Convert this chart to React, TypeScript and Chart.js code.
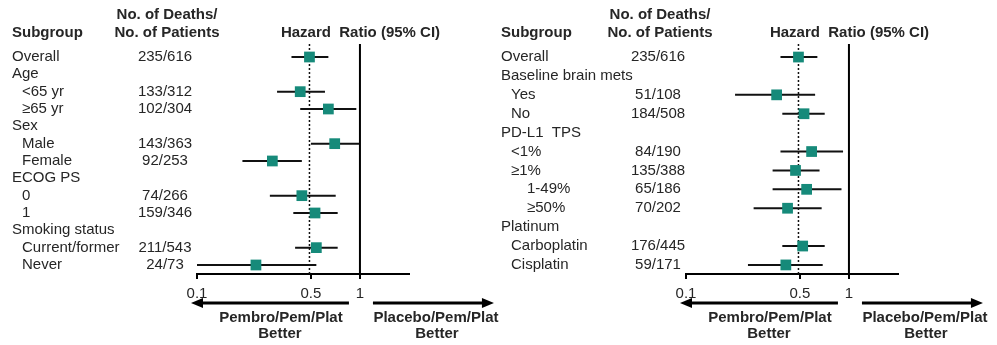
import React, { useEffect, useRef } from 'react';
import { Chart, registerables } from 'chart.js';
Chart.register(...registerables);

// ---------- Left panel data ----------
const leftLabels = ['Overall', 'Age', '<65 yr', '≥65 yr', 'Sex', 'Male', 'Female', 'ECOG PS', '0', '1', 'Smoking status', 'Current/former', 'Never'];
const leftLevels = [0, 0, 1, 1, 0, 1, 1, 0, 1, 1, 0, 1, 1];
const leftCounts = ['235/616', '', '133/312', '102/304', '', '143/363', '92/253', '', '74/266', '159/346', '', '211/543', '24/73'];
const leftHR = [0.49, null, 0.43, 0.64, null, 0.70, 0.29, null, 0.44, 0.53, null, 0.54, 0.23];
const leftLo = [0.38, null, 0.31, 0.43, null, 0.50, 0.19, null, 0.28, 0.39, null, 0.40, 0.10];
const leftHi = [0.64, null, 0.61, 0.95, null, 0.99, 0.44, null, 0.71, 0.73, null, 0.73, 0.54];

// ---------- Right panel data ----------
const rightLabels = ['Overall', 'Baseline brain mets', 'Yes', 'No', 'PD-L1  TPS', '<1%', '≥1%', '1-49%', '≥50%', 'Platinum', 'Carboplatin', 'Cisplatin'];
const rightLevels = [0, 0, 1, 1, 0, 1, 1, 2, 2, 0, 1, 1];
const rightCounts = ['235/616', '', '51/108', '184/508', '', '84/190', '135/388', '65/186', '70/202', '', '176/445', '59/171'];
const rightHR = [0.49, null, 0.36, 0.53, null, 0.59, 0.47, 0.55, 0.42, null, 0.52, 0.41];
const rightLo = [0.38, null, 0.20, 0.39, null, 0.38, 0.34, 0.34, 0.26, null, 0.39, 0.24];
const rightHi = [0.64, null, 0.62, 0.71, null, 0.92, 0.66, 0.90, 0.68, null, 0.71, 0.69];

// ---------- Axis ----------
const xTicks = [0.1, 0.5, 1];
const xMin = 0.1;
const xMax = 2;
const nullLine = 1;

const FONT = '"Liberation Sans", Arial, Helvetica, sans-serif';
const TEXT = '#262626';
const TEAL = '#168a7a';

type PanelProps = {
  labels: string[];
  levels: number[];
  counts: string[];
  hr: (number | null)[];
  lo: (number | null)[];
  hi: (number | null)[];
  yMin: number;
  yMax: number;
  width: number;
  left: number;
  padLeft: number;
  padRight: number;
  labelX: number;
  countX: number;
  indents: number[];
};

function Panel(props: PanelProps) {
  const ref = useRef<HTMLCanvasElement | null>(null);
  useEffect(() => {
    const canvas = ref.current;
    if (!canvas) return;
    const { labels, levels, counts, hr, lo, hi, yMin, yMax } = props;

    const barSets = hr
      .map((v, i) => ({ v, i }))
      .filter((d) => d.v !== null)
      .map((d) => ({
        type: 'line' as const,
        data: [
          { x: lo[d.i] as number, y: d.i },
          { x: hi[d.i] as number, y: d.i },
        ],
        borderColor: '#111',
        borderWidth: 2,
        pointRadius: 0,
        order: 2,
      }));

    const points = hr
      .map((v, i) => ({ x: v, y: i }))
      .filter((d) => d.x !== null) as { x: number; y: number }[];

    const textPlugin = {
      id: 'forestText',
      afterDraw(chart: any) {
        const ctx = chart.ctx as CanvasRenderingContext2D;
        const xs = chart.scales.x;
        const ys = chart.scales.y;
        ctx.save();
        ctx.fillStyle = TEXT;
        ctx.textBaseline = 'middle';
        // headers
        ctx.font = `bold 15px ${FONT}`;
        ctx.textAlign = 'left';
        ctx.fillText('Subgroup', props.labelX, 33);
        ctx.textAlign = 'center';
        ctx.fillText('No. of Deaths/', props.countX + 2, 15);
        ctx.fillText('No. of Patients', props.countX + 2, 33);
        ctx.textAlign = 'left';
        ctx.fillText('Hazard  Ratio (95% CI)', xs.getPixelForValue(0.5) - 30, 33);
        // rows
        ctx.font = `15px ${FONT}`;
        labels.forEach((lab, i) => {
          const py = ys.getPixelForValue(i);
          ctx.textAlign = 'left';
          ctx.fillText(lab, props.labelX + props.indents[levels[i]], py);
          if (counts[i]) {
            ctx.textAlign = 'center';
            ctx.fillText(counts[i], props.countX, py);
          }
        });
        // arrows
        const x0 = xs.getPixelForValue(xMin);
        const x1 = xs.getPixelForValue(nullLine);
        const ay = 303;
        ctx.strokeStyle = '#000';
        ctx.fillStyle = '#000';
        ctx.lineWidth = 3;
        // left arrow
        ctx.beginPath();
        ctx.moveTo(x1 - 11, ay);
        ctx.lineTo(x0 + 4, ay);
        ctx.stroke();
        ctx.beginPath();
        ctx.moveTo(x0 - 6, ay);
        ctx.lineTo(x0 + 6, ay - 5);
        ctx.lineTo(x0 + 6, ay + 5);
        ctx.closePath();
        ctx.fill();
        // right arrow
        ctx.beginPath();
        ctx.moveTo(x1 + 13, ay);
        ctx.lineTo(x1 + 124, ay);
        ctx.stroke();
        ctx.beginPath();
        ctx.moveTo(x1 + 134, ay);
        ctx.lineTo(x1 + 122, ay - 5);
        ctx.lineTo(x1 + 122, ay + 5);
        ctx.closePath();
        ctx.fill();
        // arrow captions
        ctx.fillStyle = TEXT;
        ctx.font = `bold 15px ${FONT}`;
        ctx.textAlign = 'center';
        ctx.fillText('Pembro/Pem/Plat', x1 - 79, 318);
        ctx.fillText('Better', x1 - 80, 334);
        ctx.fillText('Placebo/Pem/Plat', x1 + 76, 318);
        ctx.fillText('Better', x1 + 77, 334);
        ctx.restore();
      },
    };

    const chart = new Chart(canvas, {
      type: 'scatter',
      data: {
        datasets: [
          {
            type: 'scatter' as const,
            data: points,
            pointStyle: 'rect',
            pointRadius: 7.6,
            pointBackgroundColor: TEAL,
            pointBorderColor: TEAL,
            pointBorderWidth: 0,
            order: 0,
          },
          ...barSets,
          {
            type: 'line' as const,
            data: [
              { x: nullLine, y: yMin },
              { x: nullLine, y: yMax },
            ],
            borderColor: '#000',
            borderWidth: 2,
            pointRadius: 0,
            order: 3,
          },
          {
            type: 'line' as const,
            data: [
              { x: hr[0] as number, y: yMin },
              { x: hr[0] as number, y: yMax },
            ],
            borderColor: '#111',
            borderWidth: 1.5,
            borderDash: [2, 2],
            pointRadius: 0,
            order: 4,
          },
        ] as any,
      },
      options: {
        responsive: false,
        animation: false,
        devicePixelRatio: 1,
        layout: {
          padding: { left: props.padLeft, right: props.padRight, top: 44, bottom: 36 },
        },
        plugins: {
          legend: { display: false },
          tooltip: { enabled: false },
        },
        scales: {
          x: {
            type: 'logarithmic',
            min: xMin,
            max: xMax,
            afterBuildTicks: (scale: any) => {
              scale.ticks = xTicks.map((v) => ({ value: v }));
            },
            ticks: {
              autoSkip: false,
              maxRotation: 0,
              padding: 6,
              color: TEXT,
              font: { size: 15, family: FONT },
              callback: (v: any) => String(v),
            },
            grid: {
              display: true,
              drawOnChartArea: false,
              drawTicks: true,
              tickLength: 5,
              color: '#000',
              lineWidth: 2,
            },
            border: { display: true, color: '#000', width: 2 },
          },
          y: {
            type: 'linear',
            display: false,
            reverse: true,
            min: yMin,
            max: yMax,
          },
        },
      },
      plugins: [textPlugin],
    } as any);
    return () => chart.destroy();
  }, []);

  return (
    <canvas
      ref={ref}
      width={props.width}
      height={345}
      style={{ position: 'absolute', left: props.left, top: 0, width: props.width, height: 345 }}
    />
  );
}

export default function App() {
  return (
    <div style={{ position: 'absolute', left: 0, top: 0, width: 997, height: 345, background: '#fff', overflow: 'hidden' }}>
      <Panel
        labels={leftLabels}
        levels={leftLevels}
        counts={leftCounts}
        hr={leftHR}
        lo={leftLo}
        hi={leftHi}
        yMin={-0.75}
        yMax={12.52}
        width={502}
        left={0}
        padLeft={197}
        padRight={93}
        labelX={12}
        countX={165}
        indents={[0, 10, 26]}
      />
      <Panel
        labels={rightLabels}
        levels={rightLevels}
        counts={rightCounts}
        hr={rightHR}
        lo={rightLo}
        hi={rightHi}
        yMin={-0.69}
        yMax={11.48}
        width={502}
        left={495}
        padLeft={191}
        padRight={99}
        labelX={6}
        countX={163}
        indents={[0, 10, 26]}
      />
    </div>
  );
}
